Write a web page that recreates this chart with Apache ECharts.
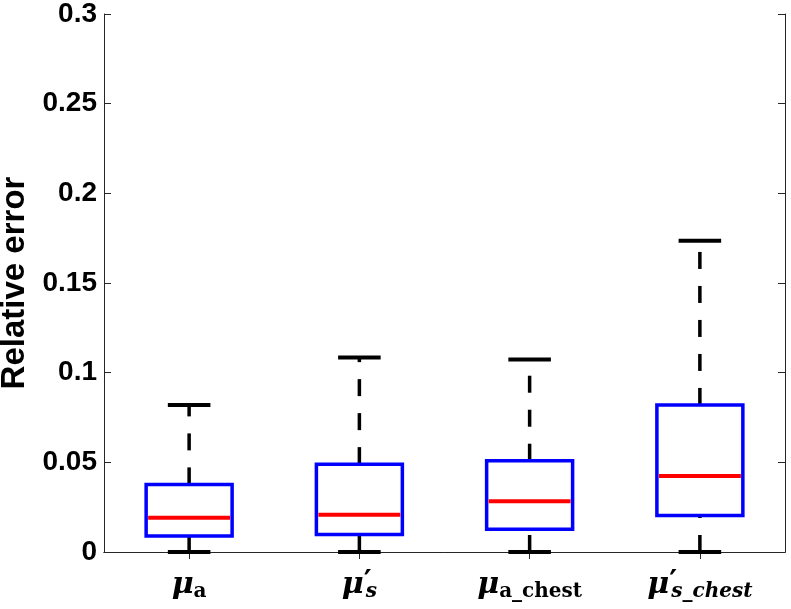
<!DOCTYPE html>
<html>
<head>
<meta charset="utf-8">
<script src="https://cdn.jsdelivr.net/npm/echarts@6/dist/echarts.min.js"></script>
<style>html,body{margin:0;padding:0;background:#fff;}#chart{width:791px;height:609px;}</style>
</head>
<body>
<div id="chart"></div>
<script>
// Categories and tick labels
const categories = ['mu_a', 'mu_s_prime', 'mu_a_chest', 'mu_s_prime_chest'];
const xTickLabels = [
  '{mu|μ}{sub|a}',
  '{mu|μ}{pr|\u2009′}{subi|s}',
  '{mu|μ}{sub|a_chest}',
  '{mu|μ}{pr|\u2009′}{subi|s_chest}'
];
const yTicks = [0, 0.05, 0.1, 0.15, 0.2, 0.25, 0.3];
const yTitle = 'Relative error';

// Box-plot statistics per category
const minVals = [0, 0, 0, 0];
const q1Vals  = [0.0089, 0.0097, 0.0127, 0.0203];
const medVals = [0.0191, 0.0208, 0.0283, 0.0424];
const q3Vals  = [0.0377, 0.0490, 0.0509, 0.0820];
const maxVals = [0.0820, 0.1085, 0.1074, 0.1736];

const boxData = categories.map((c, i) => [i, minVals[i], q1Vals[i], medVals[i], q3Vals[i], maxVals[i]]);

const chart = echarts.init(document.getElementById('chart'), null, {renderer: 'canvas'});

function renderBox(params, api) {
  const i = api.value(0);
  const band = api.size([1, 0])[0];
  const x = api.coord([i, 0])[0];
  const yMin = api.coord([i, api.value(1)])[1];
  const yQ1 = api.coord([i, api.value(2)])[1];
  const yMed = api.coord([i, api.value(3)])[1];
  const yQ3 = api.coord([i, api.value(4)])[1];
  const yMax = api.coord([i, api.value(5)])[1];
  const bw = band * 0.505;
  const cw = band * 0.25;
  const lw = 3.5;
  return {
    type: 'group',
    children: [
      {type: 'line', shape: {x1: x, y1: yQ3, x2: x, y2: yMax}, style: {stroke: '#000', lineWidth: lw, lineDash: [17, 17]}},
      {type: 'line', shape: {x1: x, y1: yMin, x2: x, y2: yQ1}, style: {stroke: '#000', lineWidth: lw, lineDash: [17, 17]}},
      {type: 'line', shape: {x1: x - cw / 2, y1: yMax, x2: x + cw / 2, y2: yMax}, style: {stroke: '#000', lineWidth: 4}},
      {type: 'line', shape: {x1: x - cw / 2, y1: yMin, x2: x + cw / 2, y2: yMin}, style: {stroke: '#000', lineWidth: 4}},
      {type: 'rect', shape: {x: x - bw / 2, y: yQ3, width: bw, height: yQ1 - yQ3}, style: {fill: 'none', stroke: '#0000ff', lineWidth: lw}},
      {type: 'line', shape: {x1: x - bw / 2 + 2, y1: yMed, x2: x + bw / 2 - 2, y2: yMed}, style: {stroke: '#ff0000', lineWidth: 4}}
    ]
  };
}

const axisColor = '#262626';
const serif = 'DejaVu Serif';

const option = {
  animation: false,
  backgroundColor: '#ffffff',
  grid: {left: 104, right: 6, top: 14, bottom: 57, containLabel: false, outerBoundsMode: 'none'},
  xAxis: [
    {
      type: 'category', data: categories, position: 'bottom',
      axisLine: {show: true, lineStyle: {color: axisColor, width: 1}},
      axisTick: {show: true, inside: true, alignWithLabel: true, length: 7, lineStyle: {color: axisColor}},
      splitLine: {show: false},
      axisLabel: {
        interval: 0,
        hideOverlap: false,
        margin: 16,
        formatter: (v, idx) => xTickLabels[idx],
        rich: {
          mu: {fontFamily: serif, fontWeight: 'bold', fontStyle: 'italic', fontSize: 30, lineHeight: 34, color: '#000'},
          sub: {fontFamily: serif, fontWeight: 'bold', fontStyle: 'normal', fontSize: 20, lineHeight: 14, verticalAlign: 'bottom', color: '#000'},
          subi: {fontFamily: serif, fontWeight: 'bold', fontStyle: 'italic', fontSize: 20, lineHeight: 14, verticalAlign: 'bottom', color: '#000'},
          pr: {fontFamily: serif, fontWeight: 'bold', fontStyle: 'normal', fontSize: 30, lineHeight: 18, verticalAlign: 'top', width: 2, color: '#000'}
        }
      }
    },
    {
      type: 'category', data: categories, position: 'top',
      axisLine: {show: true, lineStyle: {color: axisColor, width: 1}},
      axisTick: {show: true, inside: true, alignWithLabel: true, length: 7, lineStyle: {color: axisColor}},
      axisLabel: {show: false},
      splitLine: {show: false}
    }
  ],
  yAxis: [
    {
      type: 'value', min: yTicks[0], max: yTicks[yTicks.length - 1], interval: 0.05, position: 'left',
      name: yTitle, nameLocation: 'middle', nameGap: 72,
      nameTextStyle: {fontFamily: 'Liberation Sans', fontWeight: 'bold', fontSize: 33, color: '#000'},
      axisLine: {show: true, lineStyle: {color: axisColor, width: 1}},
      axisTick: {show: true, inside: true, length: 7, lineStyle: {color: axisColor}},
      axisLabel: {margin: 7, fontFamily: 'Liberation Sans', fontWeight: 'bold', fontSize: 28, color: '#000', showMinLabel: true, showMaxLabel: true},
      splitLine: {show: false}
    },
    {
      type: 'value', min: yTicks[0], max: yTicks[yTicks.length - 1], interval: 0.05, position: 'right',
      axisLine: {show: true, lineStyle: {color: axisColor, width: 1}},
      axisTick: {show: true, inside: true, length: 7, lineStyle: {color: axisColor}},
      axisLabel: {show: false},
      splitLine: {show: false}
    }
  ],
  series: [
    {
      type: 'custom',
      xAxisIndex: 0, yAxisIndex: 0,
      renderItem: renderBox,
      encode: {x: 0, y: [1, 2, 3, 4, 5]},
      data: boxData,
      clip: false,
      z: 5
    }
  ]
};

chart.setOption(option);
</script>
</body>
</html>
